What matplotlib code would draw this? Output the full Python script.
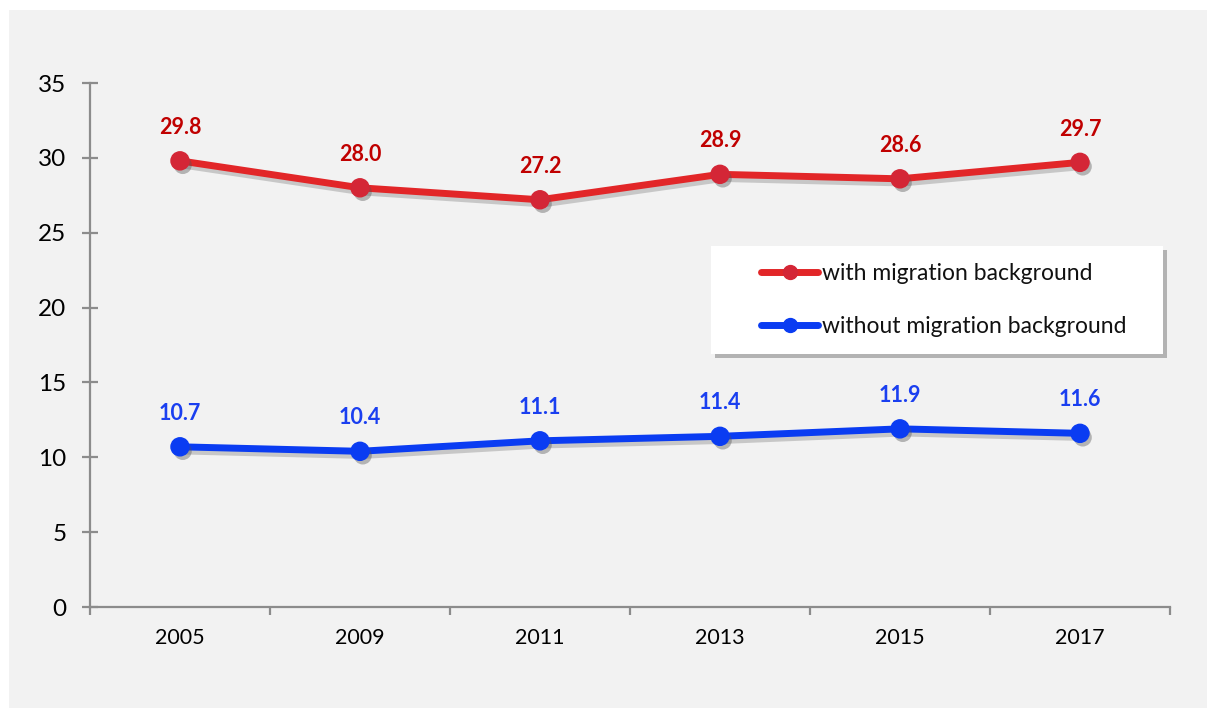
import matplotlib.pyplot as plt
import matplotlib.patheffects as pe
from matplotlib.patches import Rectangle
from matplotlib.lines import Line2D

# survey years and shares (%) by migration background
years = ["2005", "2009", "2011", "2013", "2015", "2017"]
with_migration = [29.8, 28.0, 27.2, 28.9, 28.6, 29.7]
without_migration = [10.7, 10.4, 11.1, 11.4, 11.9, 11.6]
series_labels = ["with migration background", "without migration background"]

plt.rcParams['font.family'] = ['Lato', 'DejaVu Sans']

fig = plt.figure(figsize=(12.07, 7.09), dpi=100, facecolor='white')
# light grey chart area, kept behind the axes
fig.patches.append(Rectangle((9 / 1207, 1 / 709), 1 - 9 / 1207, 698 / 709,
                             transform=fig.transFigure, facecolor='#f2f2f2',
                             edgecolor='none', zorder=-10))

ax = fig.add_axes([90 / 1207, 1 - 607 / 709, 1080 / 1207, 524 / 709])
ax.set_facecolor('none')

x = list(range(len(years)))
line_shadow = [pe.SimpleLineShadow(offset=(2, -3), shadow_color='#666666', alpha=0.3), pe.Normal()]
dot_shadow = [pe.SimplePatchShadow(offset=(2, -3), shadow_rgbFace='#555555', alpha=0.4), pe.Normal()]

red_line = '#e22628'
red_marker = '#d42636'
red_text = '#c00000'
blue_line = '#0a3cf2'
blue_marker = '#0a3cf2'
blue_text = '#1a3ff0'

series = [
    (with_migration, red_line, red_marker, red_text),
    (without_migration, blue_line, blue_marker, blue_text),
]
handles = []
for (vals, lc, mc, tc), name in zip(series, series_labels):
    ax.plot(x, vals, color=lc, lw=5, solid_capstyle='round',
            path_effects=line_shadow, zorder=3)
    ax.plot(x, vals, ls='none', marker='o', ms=13, mfc=mc, mec=mc,
            path_effects=dot_shadow, zorder=4)
    for xi, v in zip(x, vals):
        ax.annotate(f"{v:.1f}", (xi, v), xytext=(0, 24), textcoords='offset points',
                    ha='center', va='center', fontsize=15.5, fontweight='bold', color=tc)
    handles.append(Line2D([], [], color=lc, lw=5, marker='o', ms=10, mfc=mc, mec=mc,
                          solid_capstyle='round', label=name))

ax.set_xlim(-0.5, len(years) - 0.5)
ax.set_ylim(0, 35)
ax.set_yticks(range(0, 36, 5))
ax.set_xticks(x)
ax.set_xticklabels(years)
ax.set_xticks([i - 0.5 for i in range(len(years) + 1)], minor=True)

axis_grey = '#8c8c8c'
for side in ['top', 'right']:
    ax.spines[side].set_visible(False)
for side in ['left', 'bottom']:
    ax.spines[side].set_color(axis_grey)
    ax.spines[side].set_linewidth(1.6)

ax.tick_params(axis='y', direction='inout', length=12, width=1.6, color=axis_grey,
               labelsize=17.5, pad=11)
ax.tick_params(axis='x', which='major', length=0, labelsize=15.5, pad=15)
ax.tick_params(axis='x', which='minor', direction='out', length=6, width=1.6, color=axis_grey)

# white legend panel with drop shadow
box = Rectangle((0.575, 0.483), 0.4185, 0.206, transform=ax.transAxes,
                facecolor='white', edgecolor='none', zorder=5,
                path_effects=[pe.withSimplePatchShadow(offset=(3, -3), shadow_rgbFace='#555555', alpha=0.4)])
ax.add_patch(box)

leg = ax.legend(handles=handles, loc='upper left', bbox_to_anchor=(0.6213, 0.6565),
                frameon=False, fontsize=16.5, handlelength=2.5, handletextpad=0.15,
                labelspacing=1.4, borderpad=0, borderaxespad=0, numpoints=1)
leg.set_zorder(6)
for t in leg.get_texts():
    t.set_color('#111111')

fig.savefig('out.png', dpi=100, facecolor=fig.get_facecolor())
